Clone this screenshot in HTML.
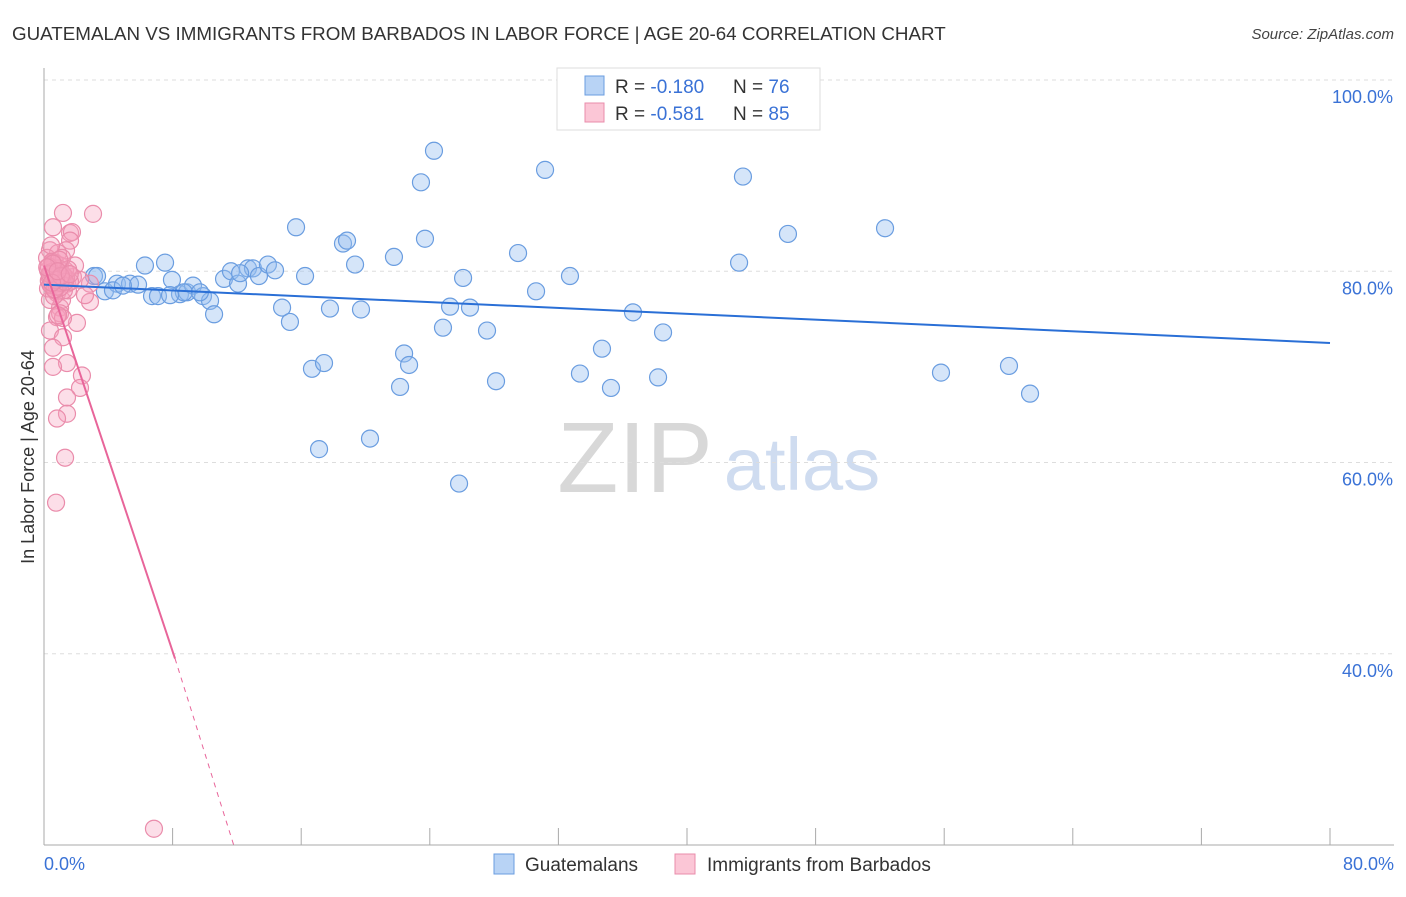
<!DOCTYPE html>
<html><head><meta charset="utf-8"><style>
body{margin:0;background:#fff;font-family:"Liberation Sans",sans-serif}
svg text{font-family:"Liberation Sans",sans-serif}
</style></head><body>
<svg id="chart" width="1406" height="892" xmlns="http://www.w3.org/2000/svg">
<text x="12" y="40" font-size="18.8" fill="#333">GUATEMALAN VS IMMIGRANTS FROM BARBADOS IN LABOR FORCE | AGE 20-64 CORRELATION CHART</text>
<text x="1394" y="39" font-size="15" fill="#444" font-style="italic" text-anchor="end">Source: ZipAtlas.com</text>
<g>
<text x="635" y="492" font-size="100" fill="#d8d8d8" font-family="Liberation Serif" text-anchor="middle">ZIP</text>
<text x="802" y="490" font-size="74" fill="#cfdcf0" text-anchor="middle">atlas</text>
</g>
<g id="grid"></g>
<g id="axes"></g>
<g id="points"></g>
<g id="trends"></g>
<text transform="translate(34,457) rotate(-90)" font-size="18" fill="#333" text-anchor="middle">In Labor Force | Age 20-64</text>
<g>
<rect x="557" y="68" width="263" height="62" fill="#fff" stroke="#ddd"/>
<rect x="585" y="76" width="19" height="19" fill="#b8d3f5" stroke="#6a9de0"/>
<rect x="585" y="103" width="19" height="19" fill="#fbc6d6" stroke="#ea8cab"/>
<text x="615" y="93" font-size="19" fill="#333">R = <tspan fill="#3a72d6">-0.180</tspan></text>
<text x="733" y="93" font-size="19" fill="#333">N = <tspan fill="#3a72d6">76</tspan></text>
<text x="615" y="120" font-size="19" fill="#333">R = <tspan fill="#3a72d6">-0.581</tspan></text>
<text x="733" y="120" font-size="19" fill="#333">N = <tspan fill="#3a72d6">85</tspan></text>
</g>
<g>
<rect x="494" y="854" width="20" height="20" fill="#b8d3f5" stroke="#6a9de0"/>
<text x="525" y="871" font-size="19" fill="#333">Guatemalans</text>
<rect x="675" y="854" width="20" height="20" fill="#fbc6d6" stroke="#ea8cab"/>
<text x="707" y="871" font-size="19" fill="#333">Immigrants from Barbados</text>
</g>
</svg>
<script>
const xTicks=[0,8,16,24,32,40,48,56,64,72,80];
const yTickVals=[100,80,60,40];
const yTickLabels=["100.0%","80.0%","60.0%","40.0%"];
const xEndLabels=["0.0%","80.0%"];
const blueX=[3.11,3.79,4.54,5.35,5.85,6.28,6.72,7.09,7.53,7.96,8.46,8.90,9.27,9.89,10.33,10.58,11.20,11.63,12.07,12.69,13.0,13.37,13.93,14.37,14.81,15.30,15.68,16.24,16.67,17.11,17.42,17.79,18.60,18.85,19.35,19.72,20.28,21.77,22.15,22.40,22.71,23.45,23.70,24.26,24.82,25.26,25.82,26.07,26.50,27.56,28.12,29.49,30.61,31.17,32.72,33.34,34.71,35.27,36.64,38.20,38.51,43.24,43.48,46.28,52.32,55.80,60.03,61.34,3.3,4.29,4.91,8.7,9.7,12.2,7.84,1.0];
const blueY=[79.5,77.9,78.7,78.7,78.6,80.6,77.4,77.4,80.9,79.1,77.6,77.8,78.5,77.4,76.9,75.5,79.2,80.0,78.7,80.3,80.3,79.5,80.7,80.1,76.2,74.7,84.6,79.5,69.8,61.4,70.4,76.1,82.9,83.2,80.7,76.0,62.5,81.5,67.9,71.4,70.2,89.3,83.4,92.6,74.1,76.3,57.8,79.3,76.2,73.8,68.5,81.9,77.9,90.6,79.5,69.3,71.9,67.8,75.7,68.9,73.6,80.9,89.9,83.9,84.5,69.4,70.1,67.2,79.5,78.0,78.5,77.8,77.8,79.8,77.5,78.9];
const pinkX=[1.18,3.05,1.62,0.56,0.37,0.56,1.0,1.43,0.81,0.37,1.0,0.81,2.05,0.37,1.18,0.56,1.43,0.56,2.36,2.24,1.43,1.43,0.81,1.31,0.75,2.86,1.80,1.74,1.62,1.37,0.87,0.68,1.0,1.93,1.12,0.68,0.5,0.37,1.31,1.49,2.86,2.55,1.0,1.18,2.24,6.84,0.25,0.5,0.75,0.25,0.87,1.12,0.19,1.24,0.62,0.87,1.62,0.44,1.0,1.37,0.3,0.6,0.9,1.2,0.4,0.7,1.1,0.5,0.8,0.3,0.6,1.0,1.5,0.45,0.65,0.95,0.35,0.55,1.3,0.75,0.2,1.05,0.5,0.85,1.6];
const pinkY=[86.1,86.0,84.0,84.6,82.2,80.4,79.8,78.7,77.7,77.0,76.2,75.2,74.6,73.8,73.1,72.0,70.4,70.0,69.1,67.8,66.8,65.1,64.6,60.5,55.8,76.8,79.4,84.1,83.2,82.2,81.9,80.9,80.6,80.6,77.0,78.0,78.5,79.3,80.1,78.0,78.7,77.5,75.6,75.1,79.1,21.7,80.1,80.9,79.6,78.2,78.9,81.4,81.4,78.0,77.4,75.4,78.9,82.7,78.3,79.3,79.0,79.8,80.3,79.6,78.6,80.0,79.2,81.0,78.4,80.5,79.4,78.8,80.2,79.9,78.1,81.2,79.7,80.8,78.9,79.1,80.4,79.5,78.8,80.0,79.7];
const blueTrend=[0,78.6,80,72.5];
const pinkTrend=[0,80.6,8.15,39.5,11.8,20];
const X0=44,X1=1330,Y100=80,Y20=845;
const sx=v=>X0+v/80*(X1-X0);
const sy=v=>Y100+(100-v)/80*(Y20-Y100);
const NS="http://www.w3.org/2000/svg";
function mk(tag,attrs,parent){const e=document.createElementNS(NS,tag);for(const k in attrs)e.setAttribute(k,attrs[k]);parent.appendChild(e);return e;}
const grid=document.getElementById('grid'),axes=document.getElementById('axes'),pts=document.getElementById('points'),tr=document.getElementById('trends');
yTickVals.forEach((v,i)=>{
 const l=mk('line',{x1:X0,x2:1394,y1:sy(v),y2:sy(v),stroke:'#ddd','stroke-dasharray':'4,4'},grid);
 
 
 const t=mk('text',{x:1393,y:sy(v)+23,'font-size':18,fill:'#3a72d6','text-anchor':'end'},grid);
 t.textContent=yTickLabels[i];
 
 
});
let a=mk('line',{x1:X0,x2:X0,y1:68,y2:Y20,stroke:'#aaa'},axes);


a=mk('line',{x1:X0,x2:1394,y1:Y20,y2:Y20,stroke:'#aaa'},axes);


xTicks.forEach(v=>{const t=mk('line',{x1:sx(v),x2:sx(v),y1:828,y2:Y20,stroke:'#aaa'},axes);
 
 });
[[0,'start',44],[80,'end',1394]].forEach((d,i)=>{const t=mk('text',{x:d[2],y:870,'font-size':18,fill:'#3a72d6','text-anchor':d[1]},axes);t.textContent=xEndLabels[i];
 
 });
blueX.forEach((x,i)=>{const c=mk('circle',{cx:sx(x),cy:sy(blueY[i]),r:8.5,fill:'rgba(150,190,240,0.4)',stroke:'#6a9de0','stroke-width':1.2},pts);
 
 });
pinkX.forEach((x,i)=>{const c=mk('circle',{cx:sx(x),cy:sy(pinkY[i]),r:8.5,fill:'rgba(245,160,190,0.35)',stroke:'#ea8cab','stroke-width':1.2},pts);
 
 });
let l=mk('line',{x1:sx(blueTrend[0]),y1:sy(blueTrend[1]),x2:sx(blueTrend[2]),y2:sy(blueTrend[3]),stroke:'#2a6fd6','stroke-width':2},tr);


l=mk('line',{x1:sx(pinkTrend[0]),y1:sy(pinkTrend[1]),x2:sx(pinkTrend[2]),y2:sy(pinkTrend[3]),stroke:'#e8659a','stroke-width':2},tr);


l=mk('line',{x1:sx(pinkTrend[2]),y1:sy(pinkTrend[3]),x2:sx(pinkTrend[4]),y2:sy(pinkTrend[5]),stroke:'#e8659a','stroke-width':1,'stroke-dasharray':'5,5'},tr);


</script>
</body></html>
